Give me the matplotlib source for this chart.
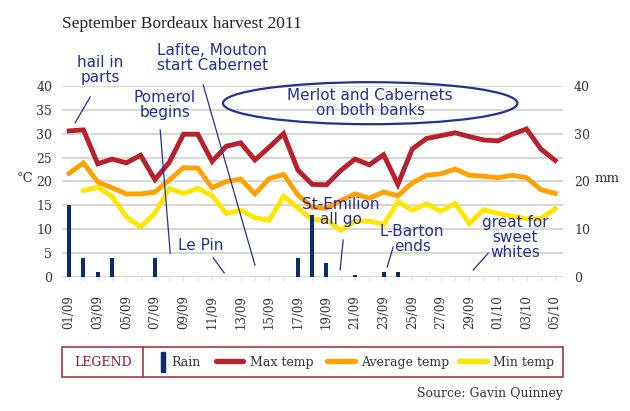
import numpy as np
import matplotlib
matplotlib.use('Agg')
import matplotlib.pyplot as plt
from matplotlib.patches import Ellipse, Rectangle
from matplotlib.lines import Line2D

# data: 01/09 .. 05/10
dates = ['01/09', '02/09', '03/09', '04/09', '05/09', '06/09', '07/09', '08/09', '09/09',
         '10/09', '11/09', '12/09', '13/09', '14/09', '15/09', '16/09', '17/09', '18/09',
         '19/09', '20/09', '21/09', '22/09', '23/09', '24/09', '25/09', '26/09', '27/09',
         '28/09', '29/09', '30/09', '01/10', '02/10', '03/10', '04/10', '05/10']
max_temp = [30.6, 30.8, 23.7, 24.7, 23.9, 25.5, 20.4, 24.0, 29.9, 29.9, 24.2, 27.4,
            28.1, 24.5, 27.2, 30.0, 22.4, 19.4, 19.3, 22.3, 24.7, 23.5, 25.6, 19.4,
            26.8, 29.0, 29.6, 30.2, 29.4, 28.7, 28.5, 29.9, 31.0, 26.8, 24.4]
avg_temp = [21.7, 23.9, 19.9, 18.7, 17.4, 17.4, 17.8, 20.3, 22.9, 22.8, 18.7, 20.0,
            20.5, 17.4, 20.6, 21.5, 17.2, 14.6, 14.4, 16.0, 17.4, 16.5, 17.8, 17.0,
            19.7, 21.3, 21.6, 22.6, 21.3, 21.1, 20.8, 21.3, 20.8, 18.3, 17.5]
min_temp = [np.nan, 18.1, 18.8, 16.9, 12.6, 10.5, 13.3, 18.5, 17.5, 18.6, 17.0, 13.3,
            14.0, 12.4, 11.9, 16.9, 14.5, 12.0, 12.0, 9.8, 11.7, 11.7, 11.0, 15.8,
            14.0, 15.3, 13.8, 15.4, 11.2, 14.1, 13.3, 12.7, 12.2, 12.2, 14.3]
rain = [15, 4, 1, 4, 0, 0, 4, 0, 0, 0, 0, 0, 0, 0, 0, 0, 4, 13, 3, 0, 0.5, 0, 1, 1,
        0, 0, 0, 0, 0, 0, 0, 0, 0, 0, 0]

RED = '#b8202b'
ORANGE = '#ffa200'
YELLOW = '#ffe600'
NAVY = '#0b2d6b'
PEN = '#22309a'
SERIF = 'DejaVu Serif'
HAND = ['Liberation Sans Narrow', 'DejaVu Sans']

plt.rcParams['font.family'] = [SERIF]

W, H = 630, 411
def fx(px):
    return px / W
def fy(py):
    return 1 - py / H

fig = plt.figure(figsize=(6.3, 4.11), dpi=100)
ax = fig.add_axes([fx(62), fy(277), (563 - 62) / W, (277 - 86) / H])
x = np.arange(len(dates))

ax.set_xlim(-0.5, 34.55)
ax.set_ylim(0, 40)
ax.set_yticks(np.arange(0, 41, 5))
ax.grid(axis='y', color='#d3d3d3', lw=1.3)
ax.set_axisbelow(True)
for s in ax.spines.values():
    s.set_visible(False)

ax.plot(x, max_temp, color=RED, lw=3.5, solid_joinstyle='miter', zorder=3)
ax.plot(x, avg_temp, color=ORANGE, lw=3.5, solid_joinstyle='miter', zorder=3)
ax.plot(x, min_temp, color=YELLOW, lw=3.5, solid_joinstyle='miter', zorder=3)
ax.bar(x, rain, width=0.28, color=NAVY, zorder=4)

ax.set_xticks(x[::2])
ax.set_xticklabels(dates[::2], rotation=90, fontsize=8.5, color='#333333')
ax.set_xticks(x, minor=True)
ax.tick_params(axis='x', which='both', length=3, color='#dddddd', pad=10)
ax.tick_params(axis='y', length=0, pad=7, labelsize=9, labelcolor='#333333')

ax2 = ax.twinx()
ax2.set_ylim(0, 40)
ax2.set_yticks([0, 10, 20, 30, 40])
ax2.tick_params(axis='y', length=0, pad=8, labelsize=9, labelcolor='#333333')
for s in ax2.spines.values():
    s.set_visible(False)

fig.text(fx(25), fy(178), '°C', fontsize=9.5, color='#333333', ha='center', va='center')
fig.text(fx(607), fy(178), 'mm', fontsize=9.5, color='#333333', ha='center', va='center')
fig.text(fx(62), fy(24), 'September Bordeaux harvest 2011', fontsize=12.5,
         family='Liberation Serif', color='#222222', ha='left', va='center')

# hand-written notes
notes = [
    ('hail in\nparts', 2.2, 43.3, [(1.47, 37.7), (0.42, 32.3)]),
    ('Lafite, Mouton\nstart Cabernet', 10.0, 45.9, [(9.38, 40.2), (13.0, 2.5)]),
    ('Pomerol\nbegins', 6.7, 36.0, [(6.37, 30.8), (7.07, 5.0)]),
    ('Merlot and Cabernets\non both banks', 21.06, 36.4, None),
    ('Le Pin', 9.2, 6.7, [(10.08, 4.0), (10.85, 0.85)]),
    ('St-Emilion\nall go', 19.0, 13.6, [(19.17, 7.75), (18.96, 1.47)]),
    ('L-Barton\nends', 24.0, 8.0, [(22.67, 6.28), (22.25, 2.1)]),
    ('great for\nsweet\nwhites', 31.2, 8.2, [(29.32, 5.0), (28.27, 1.47)]),
]
for txt, tx, ty, seg in notes:
    ax.text(tx, ty, txt, ha='center', va='center', fontsize=11, color=PEN, family=HAND,
            linespacing=1.0, zorder=6, clip_on=False)
    if seg:
        ax.plot([seg[0][0], seg[1][0]], [seg[0][1], seg[1][1]], color=PEN, lw=0.9,
                zorder=6, clip_on=False)
ax.add_patch(Ellipse((21.06, 36.4), 20.6, 8.8, fill=False, ec=PEN, lw=1.6,
                     zorder=6, clip_on=False))

# legend strip
box_c = '#a83540'
fig.patches.append(Rectangle((fx(62.3), fy(376.7)), (562.7 - 62.3) / W, (376.7 - 346.7) / H,
                             transform=fig.transFigure, fill=False, ec=box_c, lw=1.2))
fig.lines.append(Line2D([fx(143.3)] * 2, [fy(346.7), fy(376.7)], transform=fig.transFigure,
                        color=box_c, lw=1.2))
fig.text(fx(103.3), fy(362.5), 'LEGEND', fontsize=9, color='#8b1a2a',
         ha='center', va='center')
fig.patches.append(Rectangle((fx(160.7), fy(372)), 4 / W, 20 / H, transform=fig.transFigure,
                             color=NAVY))
items = [(RED, 215.7, 243.3, 'Max temp', 250),
         (ORANGE, 327, 355, 'Average temp', 361),
         (YELLOW, 459, 487, 'Min temp', 493)]
fig.text(fx(171.7), fy(362), 'Rain', fontsize=9, color='#333333', ha='left', va='center')
for col, x0, x1, lab, lx in items:
    fig.lines.append(Line2D([fx(x0), fx(x1)], [fy(361), fy(361)], transform=fig.transFigure,
                            color=col, lw=3.8, solid_capstyle='round'))
    fig.text(fx(lx), fy(362), lab, fontsize=9, color='#333333', ha='left', va='center')

fig.text(fx(562.7), fy(393), 'Source: Gavin Quinney', fontsize=9,
         color='#333333', ha='right', va='center')

fig.savefig('out.png', dpi=100, facecolor='white')
